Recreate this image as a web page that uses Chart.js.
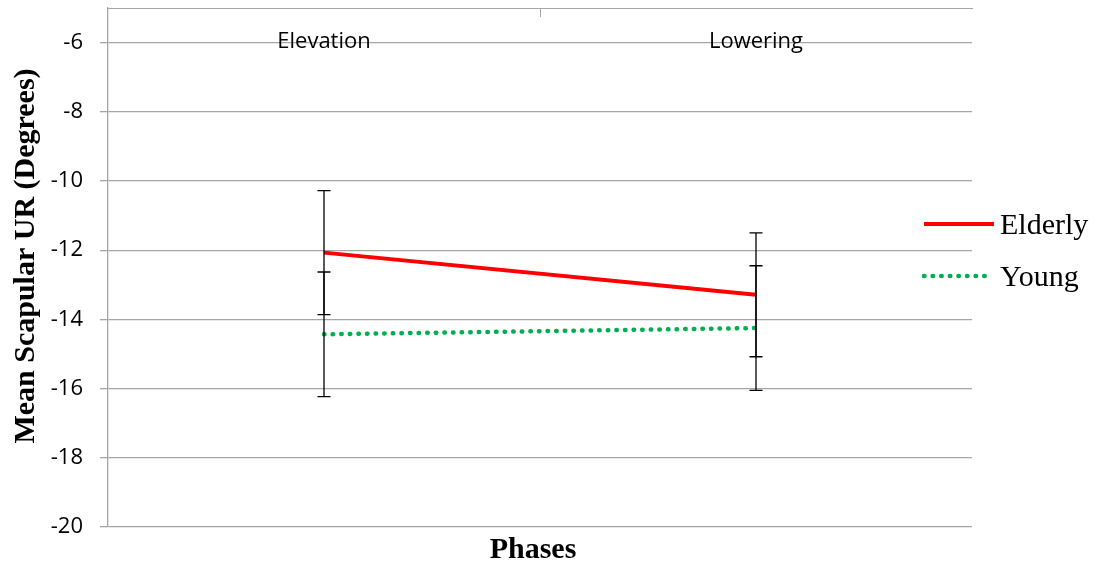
<!DOCTYPE html>
<html>
<head>
<meta charset="utf-8">
<script src="https://cdn.jsdelivr.net/npm/chart.js@4"></script>
<style>
  html, body { margin: 0; padding: 0; background: #fff; }
  #wrap { width: 1101px; height: 568px; }
</style>
</head>
<body>
<div id="wrap"><canvas id="myChart"></canvas></div>
<script>
const phases = ["Elevation", "Lowering"];
const elderlyMean = [-12.07, -13.29];
const elderlyErr = [1.79, 1.79];
const youngMean = [-14.43, -14.25];
const youngErr = [1.8, 1.8];
const yTicks = [-20, -18, -16, -14, -12, -10, -8, -6];

const gridGray = "#a6a6a6";

// error bars, drawn on top of the lines
const errorBars = {
  id: "errorBars",
  afterDatasetsDraw(chart) {
    const ctx = chart.ctx;
    const xs = chart.scales.x, ys = chart.scales.y;
    ctx.save();
    ctx.strokeStyle = "#000";
    ctx.lineWidth = 1.3;
    chart.data.datasets.forEach(ds => {
      ds.data.forEach((v, j) => {
        const x = xs.getPixelForValue(j);
        const yt = ys.getPixelForValue(v + ds.err[j]);
        const yb = ys.getPixelForValue(v - ds.err[j]);
        ctx.beginPath();
        ctx.moveTo(x, yt); ctx.lineTo(x, yb);
        ctx.moveTo(x - 6.5, yt); ctx.lineTo(x + 6.5, yt);
        ctx.moveTo(x - 6.5, yb); ctx.lineTo(x + 6.5, yb);
        ctx.stroke();
      });
    });
    ctx.restore();
  }
};

// category labels under the top axis, middle tick, titles and legend
const extras = {
  id: "extras",
  afterDraw(chart) {
    const ctx = chart.ctx;
    const xs = chart.scales.x;
    const area = chart.chartArea;
    ctx.save();

    // middle tick on the top axis
    ctx.strokeStyle = gridGray;
    ctx.lineWidth = 1;
    const mid = (xs.getPixelForValue(0) + xs.getPixelForValue(1)) / 2;
    ctx.beginPath();
    ctx.moveTo(Math.round(mid) + 0.5, area.top);
    ctx.lineTo(Math.round(mid) + 0.5, area.top + 9);
    ctx.stroke();

    // category labels
    ctx.fillStyle = "#000";
    ctx.font = "22px 'Open Sans'";
    ctx.textAlign = "center";
    ctx.textBaseline = "middle";
    phases.forEach((p, i) => {
      ctx.fillText(p, xs.getPixelForValue(i), area.top + 34);
    });

    // axis titles
    ctx.font = "bold 30px 'Liberation Serif'";
    ctx.fillText("Phases", 533, 550);
    ctx.save();
    ctx.translate(26, 256);
    ctx.rotate(-Math.PI / 2);
    ctx.fillText("Mean Scapular UR (Degrees)", 0, 0);
    ctx.restore();

    // legend
    ctx.font = "30px 'Liberation Serif'";
    ctx.textAlign = "left";
    const rows = [224, 276];
    chart.data.datasets.forEach((ds, i) => {
      const y = rows[i];
      ctx.save();
      ctx.strokeStyle = ds.borderColor;
      ctx.lineWidth = ds.borderWidth;
      ctx.lineCap = ds.borderCapStyle || "butt";
      ctx.setLineDash(ds.borderDash || []);
      ctx.beginPath();
      ctx.moveTo(924, y);
      ctx.lineTo(i === 0 ? 994 : 990, y);
      ctx.stroke();
      ctx.restore();
      ctx.fillText(ds.label, 1000, y + 2);
    });
    ctx.restore();
  }
};

const data = {
  labels: phases,
  datasets: [
    {
      label: "Elderly",
      data: elderlyMean,
      err: elderlyErr,
      borderColor: "#ff0000",
      borderWidth: 4,
      pointRadius: 0,
      tension: 0,
    },
    {
      label: "Young",
      data: youngMean,
      err: youngErr,
      borderColor: "#00b050",
      borderWidth: 4.5,
      borderDash: [0.5, 8.1],
      borderCapStyle: "round",
      pointRadius: 0,
      tension: 0,
    },
  ],
};

const config = {
  type: "line",
  data: data,
  options: {
    responsive: true,
    maintainAspectRatio: false,
    animation: false,
    layout: {
      padding: { top: 8, right: 129, bottom: 41, left: 0 },
    },
    plugins: {
      legend: { display: false },
      tooltip: { enabled: false },
    },
    scales: {
      x: {
        position: "top",
        offset: true,
        ticks: { display: false },
        grid: { display: false, drawTicks: false },
        border: { display: true, color: gridGray, width: 1 },
        afterFit: s => {
          s.height = 0;
          s.paddingLeft = 0; s.paddingRight = 0;
        },
      },
      y: {
        min: -20,
        max: -5,
        afterBuildTicks: s => { s.ticks = yTicks.map(v => ({ value: v })); },
        ticks: {
          color: "#000",
          padding: 17,
          font: { family: "Open Sans", size: 22 },
        },
        grid: { color: gridGray, lineWidth: 1.3, tickLength: 8 },
        border: { color: gridGray, width: 1.3 },
        afterFit: s => {
          s.width = 108;
          s.paddingTop = 0; s.paddingBottom = 0;
        },
      },
    },
  },
  plugins: [errorBars, extras],
};

const myChart = new Chart(document.getElementById("myChart"), config);
</script>
</body>
</html>
